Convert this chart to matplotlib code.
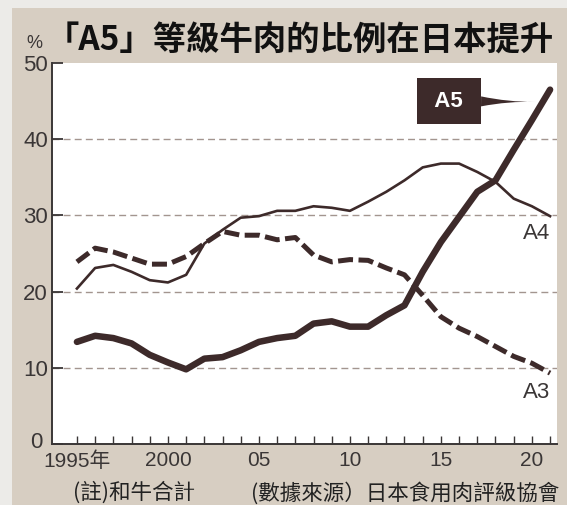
import numpy as np
import matplotlib
matplotlib.use("Agg")
import matplotlib.pyplot as plt
from matplotlib.patches import Rectangle

plt.rcParams['font.family'] = ['Liberation Sans', 'Noto Sans CJK TC']

# Data (share of wagyu carcasses by grade, %)
years = list(range(1995, 2022))
a5 = [13.4, 14.2, 13.9, 13.2, 11.7, 10.7, 9.8, 11.2, 11.4, 12.3, 13.4, 13.9, 14.2,
      15.8, 16.1, 15.4, 15.4, 16.9, 18.2, 22.6, 26.5, 29.8, 33.1, 34.6, 38.6, 42.5, 46.5]
a4 = [20.4, 23.1, 23.5, 22.6, 21.5, 21.2, 22.2, 26.3, 28.1, 29.7, 29.9, 30.6, 30.6,
      31.2, 31.0, 30.6, 31.8, 33.1, 34.6, 36.3, 36.8, 36.8, 35.7, 34.4, 32.2, 31.2, 29.9]
a3 = [23.9, 25.7, 25.2, 24.4, 23.6, 23.6, 24.6, 26.3, 27.9, 27.4, 27.4, 26.8, 27.1,
      24.8, 23.9, 24.2, 24.1, 23.1, 22.2, 19.5, 16.7, 15.2, 14.1, 12.8, 11.5, 10.6, 9.3]
yticks = [0, 10, 20, 30, 40, 50]
xlabel_map = {1995: '1995年', 2000: '2000', 2005: '05', 2010: '10', 2015: '15', 2020: '20'}

title = '「A5」等級牛肉的比例在日本提升'
note1 = '(註)和牛合計'
note2 = '(數據來源）日本食用肉評級協會'

brown = '#3d2a2a'
tan = '#d7cec2'
text_col = '#3a3636'

fig = plt.figure(figsize=(5.67, 5.05), dpi=100)
fig.patch.set_facecolor('#ecebe8')
bg = Rectangle((12 / 567, 0), 1, 1 - 8 / 505, transform=fig.transFigure,
               facecolor=tan, edgecolor='none', zorder=-5)
fig.add_artist(bg)

ax = fig.add_axes([52 / 567, 1 - 444 / 505, (557 - 52) / 567, (444 - 63) / 505])
ax.set_zorder(2)
ax.set_facecolor('white')

ax.plot(years, a4, color=brown, lw=1.9, solid_joinstyle='round', zorder=3)
ax.plot(years, a3, color=brown, lw=3.6, linestyle=(0, (3.0, 1.1)),
        dash_capstyle='butt', zorder=3)
ax.plot(years, a5, color=brown, lw=4.7, solid_joinstyle='round',
        solid_capstyle='round', zorder=4)

ax.set_xlim(1993.63, 2021.38)
ax.set_ylim(0, 50)

for v in yticks[1:-1]:
    ax.axhline(v, color='#a3958f', lw=1.0, linestyle=(0, (5, 3)), zorder=1)

# the "0" label sits a little further left, drawn separately below
ax.set_yticks(yticks)
ax.set_yticklabels(['' if v == 0 else str(v) for v in yticks])
ax.set_xticks(years)
ax.set_xticklabels([xlabel_map.get(y, '') for y in years])
ax.tick_params(axis='y', direction='in', length=8, width=1.3, color=text_col,
               labelsize=16, labelcolor=text_col, pad=3)
ax.tick_params(axis='x', direction='in', length=6, width=1.0, color=text_col,
               labelsize=15, labelcolor=text_col, pad=5)
for s in ['top', 'right']:
    ax.spines[s].set_visible(False)
for s in ['left', 'bottom']:
    ax.spines[s].set_color(text_col)
    ax.spines[s].set_linewidth(1.4)

ax.annotate('0', xy=(0, 0), xycoords='axes fraction', xytext=(-7, 1),
            textcoords='offset points', ha='right', va='center',
            fontsize=16, color=text_col)

# series labels
ax.text(2021, 27.6, 'A4', ha='right', va='center', fontsize=16, color=text_col)
ax.text(2021, 6.7, 'A3', ha='right', va='center', fontsize=16, color=text_col)
ax.annotate(' A5 ', xy=(2020.2, 44.9), xytext=(2015.44, 45.0),
            ha='center', va='center', fontsize=16, fontweight='bold', color='white',
            bbox=dict(boxstyle='square,pad=0.55', fc=brown, ec='none'),
            arrowprops=dict(arrowstyle='wedge,tail_width=0.45,shrink_factor=0.2',
                            fc=brown, ec='none', shrinkA=0, shrinkB=0),
            zorder=5)

fig.text(46 / 567, 1 - 41 / 505, title, fontsize=24, fontweight='bold',
         family='Noto Sans CJK TC', color='#111111', ha='left', va='center')
fig.text(34 / 567, 1 - 43 / 505, '%', fontsize=13, color=text_col, ha='center', va='center')

fig.text(73 / 567, 1 - 493 / 505, note1, fontsize=15.5, family='Noto Sans CJK TC',
         color='#222222', ha='left', va='center')
fig.text(251 / 567, 1 - 493 / 505, note2, fontsize=15.5, family='Noto Sans CJK TC',
         color='#222222', ha='left', va='center')

fig.savefig('out.png', dpi=100, facecolor=fig.get_facecolor())
